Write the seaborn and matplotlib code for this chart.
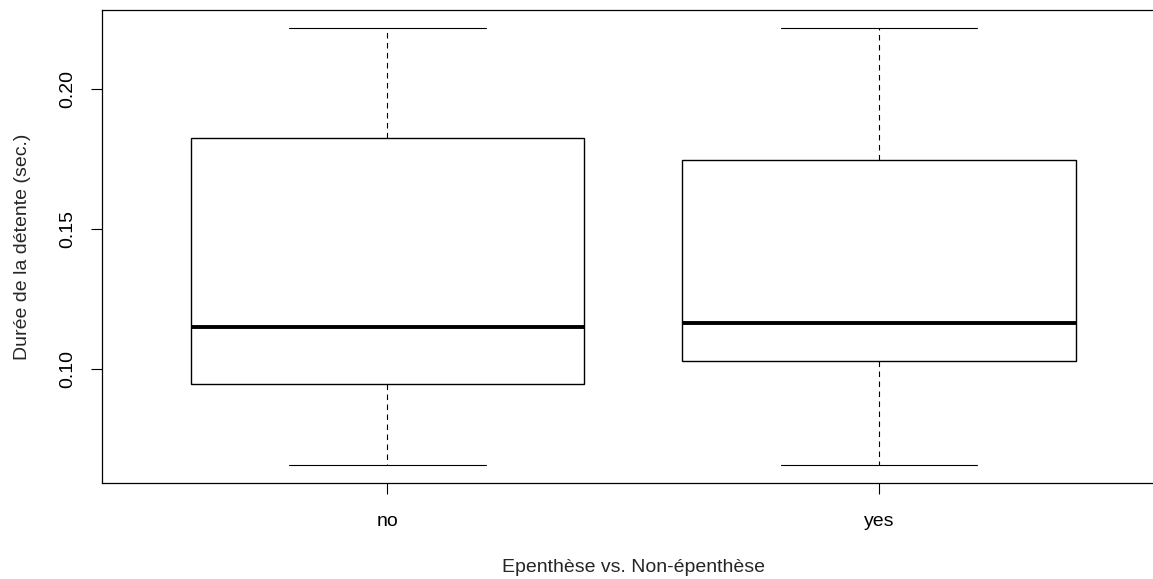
import pandas as pd
import seaborn as sns
import matplotlib.pyplot as plt

# five-number summaries: min, Q1, median, Q3, max
groups = ["no", "yes"]
no_vals = [0.0654, 0.0945, 0.1148, 0.1825, 0.2221]
yes_vals = [0.0654, 0.1027, 0.1162, 0.1745, 0.2221]
yticks = [0.10, 0.15, 0.20]
ytick_labels = ["0.10", "0.15", "0.20"]

df = pd.DataFrame({
    "group": ["no"] * len(no_vals) + ["yes"] * len(yes_vals),
    "duree": no_vals + yes_vals,
})

sns.set_style("white")
plt.rcParams["font.family"] = ["Liberation Sans", "DejaVu Sans"]

W, H = 1153, 579
fig = plt.figure(figsize=(W / 100, H / 100), dpi=100)
# plot region copied from R's layout; right edge falls just outside the picture
ax = fig.add_axes([102.3 / W, 96.3 / H, 1061.7 / W, 472.7 / H])

sns.boxplot(data=df, x="group", y="duree", order=groups, ax=ax,
            color="white", linecolor="black", linewidth=1.0, width=0.8,
            saturation=1, whis=1.5, showfliers=False,
            medianprops=dict(color="black", linewidth=2.8),
            whiskerprops=dict(color="black", linewidth=0.8, linestyle=(0, (5, 4))),
            capprops=dict(color="black", linewidth=0.8))

ax.set_xlim(-0.58, 1.58)
ax.set_ylim(0.0591, 0.2284)
ax.set_yticks(yticks, labels=ytick_labels)
for lbl in ax.get_yticklabels():
    lbl.set_rotation(90)
    lbl.set_va("center")

for s in ax.spines.values():
    s.set_visible(True)
    s.set_color("black")
    s.set_linewidth(0.9)
ax.spines["right"].set_visible(False)

ax.tick_params(direction="out", length=8, width=0.8, color="black",
               labelsize=14, labelcolor="black", left=True, bottom=True)
ax.tick_params(axis="x", pad=14)
ax.tick_params(axis="y", pad=11)
ax.set_xlabel("Epenthèse vs. Non-épenthèse", fontsize=14, labelpad=21)
ax.set_ylabel("Durée de la détente (sec.)", fontsize=14, labelpad=20)

fig.savefig("out.png", dpi=100)
